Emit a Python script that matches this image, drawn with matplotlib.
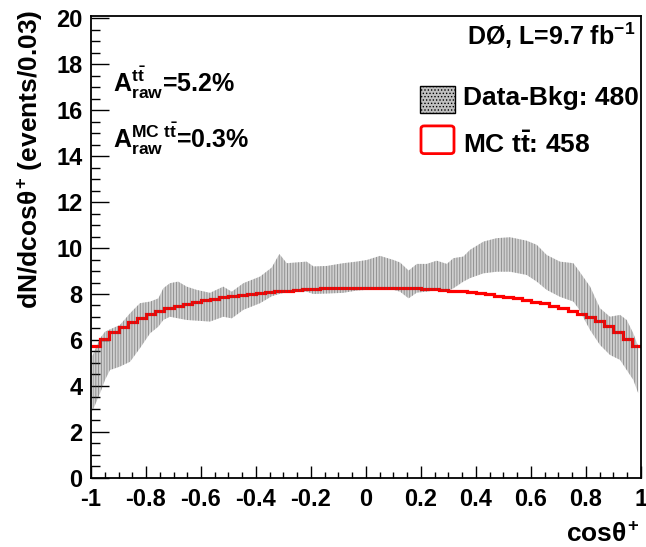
import numpy as np
import matplotlib
matplotlib.use("Agg")
import matplotlib.pyplot as plt
from matplotlib.patches import Rectangle, FancyBboxPatch
from matplotlib.ticker import MultipleLocator

plt.rcParams['font.family'] = 'Liberation Sans'
plt.rcParams['font.weight'] = 'bold'
plt.rcParams['mathtext.fontset'] = 'custom'
plt.rcParams['mathtext.rm'] = 'Liberation Sans:bold'
plt.rcParams['mathtext.bf'] = 'Liberation Sans:bold'
plt.rcParams['mathtext.it'] = 'Liberation Sans'
plt.rcParams['hatch.linewidth'] = 0.6

# MC ttbar prediction, 60 bins in cos(theta+)
mc_counts = [5.72, 6.05, 6.35, 6.58, 6.80, 6.97, 7.12, 7.25, 7.37, 7.48,
             7.58, 7.66, 7.74, 7.80, 7.86, 7.92, 7.97, 8.01, 8.05, 8.09,
             8.12, 8.15, 8.18, 8.20, 8.22, 8.24, 8.25, 8.26, 8.27, 8.28,
             8.28, 8.28, 8.27, 8.26, 8.25, 8.24, 8.22, 8.20, 8.17, 8.14,
             8.11, 8.07, 8.03, 7.98, 7.93, 7.87, 7.81, 7.75, 7.67, 7.59,
             7.49, 7.38, 7.26, 7.13, 6.98, 6.81, 6.60, 6.36, 6.06, 5.72]

# data minus background, unfolded band (lower / upper edge)
band_x = [-0.995, -0.967, -0.949, -0.931, -0.895, -0.858, -0.822, -0.785, -0.755, -0.737,
          -0.713, -0.683, -0.652, -0.616, -0.567, -0.519, -0.488, -0.446, -0.385, -0.343,
          -0.315, -0.288, -0.216, -0.191, -0.143, -0.083, -0.034, 0.003, 0.051, 0.100,
          0.124, 0.155, 0.185, 0.221, 0.257, 0.294, 0.318, 0.354, 0.378, 0.427,
          0.475, 0.524, 0.584, 0.621, 0.657, 0.705, 0.754, 0.772, 0.815, 0.851,
          0.887, 0.924, 0.948, 0.972, 0.990]
band_lo = [2.90, 3.68, 4.26, 4.69, 4.84, 5.05, 5.64, 6.29, 6.58, 6.87,
           7.01, 6.94, 6.87, 6.84, 6.80, 7.01, 6.94, 7.31, 7.60, 7.90,
           8.00, 8.08, 8.10, 8.00, 8.02, 8.05, 8.15, 8.18, 8.21, 8.18,
           8.10, 7.81, 8.06, 8.10, 8.18, 8.10, 8.25, 8.54, 8.69, 8.90,
           8.97, 8.97, 8.83, 8.54, 8.18, 7.88, 7.67, 7.38, 6.43, 5.78,
           5.35, 5.13, 4.69, 4.26, 3.68]
band_hi = [5.30, 6.07, 6.36, 6.46, 6.65, 7.16, 7.60, 7.67, 7.81, 8.25,
           8.47, 8.54, 8.32, 8.18, 8.05, 8.32, 8.10, 8.47, 8.76, 9.15,
           9.74, 9.34, 9.41, 9.20, 9.22, 9.34, 9.41, 9.48, 9.66, 9.48,
           9.37, 9.02, 9.31, 9.31, 9.45, 9.31, 9.56, 9.63, 9.92, 10.28,
           10.43, 10.47, 10.32, 10.14, 9.70, 9.41, 9.34, 9.05, 8.32, 7.38,
           7.01, 7.09, 6.87, 6.29, 5.71]

edges = np.linspace(-1, 1, len(mc_counts) + 1)

fig = plt.figure(figsize=(6.46, 5.47), dpi=100)
W, H = 646, 547
ax = fig.add_axes([91 / W, (H - 477.8) / H, 550 / W, 461.8 / H])

# band fill under the histogram, hatching over it
ax.fill_between(band_x, band_lo, band_hi, facecolor='#cfcfcf', lw=0, zorder=1)
ax.stairs(mc_counts, edges, baseline=None, color='red', lw=2.3, zorder=2)
ax.fill_between(band_x, band_lo, band_hi, facecolor='none', edgecolor=(0.3, 0.3, 0.3, 0.55),
                hatch='||||||', lw=0, zorder=3)

ax.set_xlim(-1, 1)
ax.set_ylim(0, 20.1)
ax.xaxis.set_minor_locator(MultipleLocator(0.05))
ax.yaxis.set_minor_locator(MultipleLocator(0.5))
ax.tick_params(which='both', direction='in', width=1.0, labelsize=17)
ax.tick_params(axis='y', which='major', length=13, pad=6)
ax.tick_params(axis='y', which='minor', length=6.5)
ax.tick_params(axis='x', which='major', length=9, pad=7)
ax.tick_params(axis='x', which='minor', length=4.5)
ax.set_xticks(np.arange(-1, 1.01, 0.2))
ax.set_xticklabels(['-1', '-0.8', '-0.6', '-0.4', '-0.2', '0', '0.2', '0.4', '0.6', '0.8', '1'])
ax.set_yticks(np.arange(0, 20.1, 2))
ax.set_yticklabels([str(v) for v in range(0, 21, 2)])
for s in ax.spines.values():
    s.set_linewidth(1.3)

fig.text(30 / W, 1 - 10 / H, r'dN/dcos$\theta^{\mathrm{+}}$ (events/0.03)',
         rotation=90, ha='center', va='top', fontsize=19)
fig.text(640 / W, 1 - 535 / H, r'cos$\theta^{\mathrm{+}}$', ha='right', va='center', fontsize=19)

ax.text(0.989, 0.937, r'DØ, L=9.7 fb$^{\mathrm{-1}}$', transform=ax.transAxes,
        ha='right', va='baseline', fontsize=18)
ax.text(0.04, 0.836, r'$\mathrm{A_{raw}^{t\bar{t}}}$=5.2%', transform=ax.transAxes,
        ha='left', va='baseline', fontsize=18)
ax.text(0.04, 0.7135, r'$\mathrm{A_{raw}^{MC\ t\bar{t}}}$=0.3%', transform=ax.transAxes,
        ha='left', va='baseline', fontsize=18)

# legend entries
ax.add_patch(Rectangle((0.598, 0.790), 0.064, 0.059, transform=ax.transAxes,
                       facecolor='#c0c0c0', edgecolor='black', lw=1.0, hatch='.....',
                       clip_on=False, zorder=4))
ax.add_patch(FancyBboxPatch((0.600, 0.702), 0.060, 0.060, transform=ax.transAxes,
                            boxstyle='round,pad=0,rounding_size=0.006',
                            facecolor='white', edgecolor='red', lw=2.0, zorder=4))
ax.text(0.676, 0.8073, 'Data-Bkg: 480', transform=ax.transAxes,
        ha='left', va='baseline', fontsize=19)
ax.text(0.676, 0.703, r'MC $\mathrm{t\bar{t}}$: 458', transform=ax.transAxes,
        ha='left', va='baseline', fontsize=19)

fig.savefig('out.png', dpi=100)
